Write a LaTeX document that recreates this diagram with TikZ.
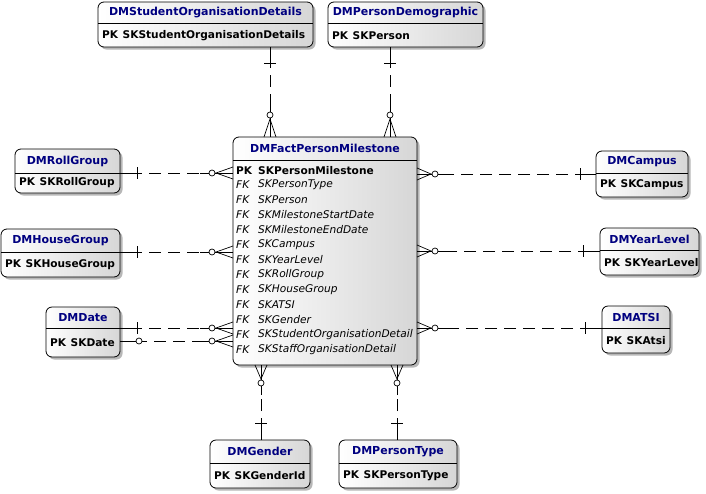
\documentclass[tikz,border=0pt]{standalone}
\usepackage{fontspec}
\setmainfont{DejaVu Sans}
\usetikzlibrary{shadows}
\definecolor{ttlblue}{HTML}{000080}
\tikzset{
 entbox/.style={draw=black, line width=0.8pt, rounded corners=6pt, left color=white, right color=black!16,
   drop shadow={shadow xshift=2.5pt, shadow yshift=-2.5pt, fill=black!40, opacity=0.7}, inner sep=0pt, outer sep=0pt},
 ttl/.style={font=\fontsize{11}{12}\selectfont\bfseries, text=ttlblue, inner sep=0pt},
 pkrow/.style={font=\fontsize{10.6}{12}\selectfont\bfseries, inner sep=0pt, anchor=west},
 fkrow/.style={font=\fontsize{10.6}{12}\selectfont\itshape, inner sep=0pt, anchor=west},
 rel/.style={line width=0.7pt},
 reldash/.style={line width=0.7pt, dash pattern=on 12pt off 7pt, dash phase=12pt},
}
% #1 name, #2 x1, #3 y1, #4 x2, #5 y2, #6 header y, #7 title, #8 pk
\newcommand\erent[8]{%
 \node[entbox, minimum width={(#4-#2)*1pt}, minimum height={(#5-#3)*1pt}] (#1) at ({(#2+#4)/2},{(#3+#5)/2}) {};
 \draw[line width=0.6pt] (#1.west |- 0,#6) -- (#1.east |- 0,#6);
 \node[ttl] (#1-t) at ({(#2+#4)/2},{(#3+#6)/2}) {#7};
 \node[pkrow] (#1-k) at (#2+4,{(#6+#5)/2}) {PK\hspace{4.5pt}#8};
}
% entity on the left of the fact: #1 ent, #2 y, #3 bar x, #4 circle x
\newcommand\relLeft[4]{%
 \draw[rel] (#1.east |- 0,#2) -- (#3+5,#2);
 \draw[reldash] (#3+5,#2) -- (#4-12,#2);
 \draw[rel] (#4-12,#2) -- (#4-3,#2);
 \draw[rel,fill=white] (#4,#2) circle (3);
 \draw[rel] (#4+3,#2) -- (fact.west |- 0,#2);
 \draw[rel] (fact.west |- 0,#2-6) -- (#4+4,#2) -- (fact.west |- 0,#2+6);
 \draw[rel] (#3,#2-6) -- (#3,#2+6);
}
% entity on the right: #1 ent, #2 y, #3 bar x, #4 circle x
\newcommand\relRight[4]{%
 \draw[rel] (#1.west |- 0,#2) -- (#3-5,#2);
 \draw[reldash] (#3-5,#2) -- (#4+12,#2);
 \draw[rel] (#4+12,#2) -- (#4+3,#2);
 \draw[rel,fill=white] (#4,#2) circle (3);
 \draw[rel] (#4-3,#2) -- (fact.east |- 0,#2);
 \draw[rel] (fact.east |- 0,#2-6) -- (#4-4,#2) -- (fact.east |- 0,#2+6);
 \draw[rel] (#3,#2-6) -- (#3,#2+6);
}
% entity above: #1 ent, #2 x, #3 bar y, #4 circle y
\newcommand\relTop[4]{%
 \draw[rel] (#1.south -| #2,0) -- (#2,#3+5);
 \draw[reldash] (#2,#3+5) -- (#2,#4-12);
 \draw[rel] (#2,#4-12) -- (#2,#4-3);
 \draw[rel,fill=white] (#2,#4) circle (3);
 \draw[rel] (#2,#4+3) -- (fact.north -| #2,0);
 \draw[rel] (fact.north -| #2-6,0) -- (#2,#4+4) -- (fact.north -| #2+6,0);
 \draw[rel] (#2-6,#3) -- (#2+6,#3);
}
% entity below: #1 ent, #2 x, #3 bar y, #4 circle y
\newcommand\relBot[4]{%
 \draw[rel] (#1.north -| #2,0) -- (#2,#3-5);
 \draw[reldash] (#2,#3-5) -- (#2,#4+12);
 \draw[rel] (#2,#4+12) -- (#2,#4+3);
 \draw[rel,fill=white] (#2,#4) circle (3);
 \draw[rel] (#2,#4-3) -- (fact.south -| #2,0);
 \draw[rel] (fact.south -| #2-6,0) -- (#2,#4-4) -- (fact.south -| #2+6,0);
 \draw[rel] (#2-6,#3) -- (#2+6,#3);
}
\begin{document}
\begin{tikzpicture}[x=1pt,y=-1pt]
\useasboundingbox (0,0) rectangle (706,493);
\fill[white] (0,0) rectangle (706,493);

\erent{so}{98}{2}{313}{47}{23.5}{DMStudentOrganisationDetails}{SKStudentOrganisationDetails}
\erent{pd}{328}{2}{483}{47}{23.5}{DMPersonDemographic}{SKPerson}
\erent{rg}{15}{149}{120}{193}{173}{DMRollGroup}{SKRollGroup}
\erent{hg}{1}{229}{120}{277}{252}{DMHouseGroup}{SKHouseGroup}
\erent{dt}{46}{307}{120}{357}{328}{DMDate}{SKDate}
\erent{ca}{596}{151}{688}{197}{173}{DMCampus}{SKCampus}
\erent{yl}{600}{228}{699}{275}{250}{DMYearLevel}{SKYearLevel}
\erent{at}{602}{306}{670}{353}{328}{DMATSI}{SKAtsi}
\erent{ge}{210}{440}{310}{488}{463}{DMGender}{SKGenderId}
\erent{pt}{339}{440}{457}{488}{463}{DMPersonType}{SKPersonType}

% fact table
\node[entbox, minimum width=184pt, minimum height=228pt] (fact) at (325,251) {};
\draw[line width=0.6pt] (fact.west |- 0,160) -- (fact.east |- 0,160);
\node[ttl] (fact-t) at (325,148.5) {DMFactPersonMilestone};
\node[pkrow] (fact-k) at (236,171) {PK};
\node[pkrow] (fact-kn) at (258,171) {SKPersonMilestone};
\foreach \nm [count=\i from 0] in {SKPersonType,SKPerson,SKMilestoneStartDate,SKMilestoneEndDate,SKCampus,SKYearLevel,SKRollGroup,SKHouseGroup,SKATSI,SKGender,SKStudentOrganisationDetail,SKStaffOrganisationDetail}{
  \node[fkrow] (fk-\i) at (236,185+15*\i) {FK};
  \node[fkrow] (fkn-\i) at (258,185+15*\i) {\nm};
}

% relationships
\relLeft{rg}{173}{137}{212}
\relLeft{hg}{252}{137}{212}
\relLeft{dt}{328}{137}{212}
% DMDate zero-or-one line
\draw[rel] (dt.east |- 0,341) -- (136,341);
\draw[rel,fill=white] (139,341) circle (3);
\draw[rel] (142,341) -- (147,341);
\draw[reldash] (147,341) -- (200,341);
\draw[rel] (200,341) -- (209,341);
\draw[rel,fill=white] (212,341) circle (3);
\draw[rel] (215,341) -- (fact.west |- 0,341);
\draw[rel] (fact.west |- 0,335) -- (216,341) -- (fact.west |- 0,347);

\relRight{ca}{174}{580}{435}
\relRight{yl}{251}{583}{435}
\relRight{at}{328}{585}{435}

\relTop{so}{270}{63}{115}
\relTop{pd}{390}{63}{115}

\relBot{ge}{261}{423}{383}
\relBot{pt}{397}{423}{383}
\end{tikzpicture}
\end{document}
